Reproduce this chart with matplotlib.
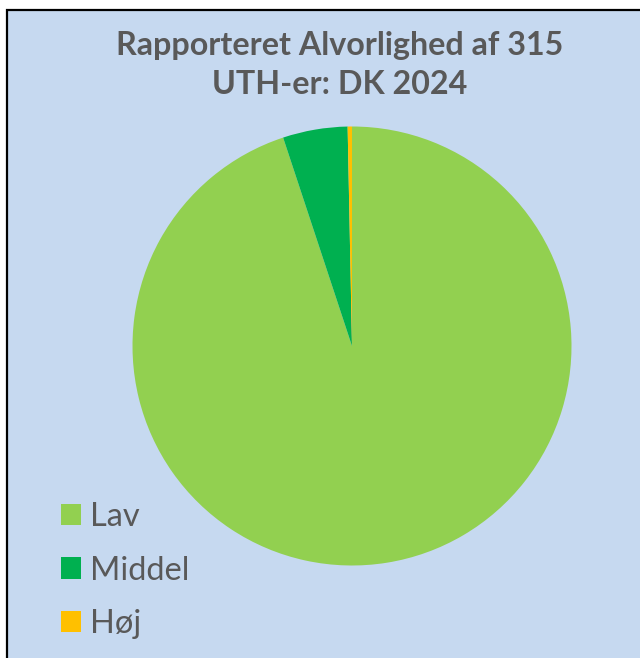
import matplotlib
matplotlib.use("Agg")
import matplotlib.pyplot as plt
from matplotlib.patches import Rectangle

# data
labels = ["Lav", "Middel", "Høj"]
counts = [299, 15, 1]
colors = ["#92D050", "#00B050", "#FFC000"]

BG = "#C6D9F0"
TEXT = "#595959"

plt.rcParams["font.family"] = ["Lato", "DejaVu Sans"]

W, H = 640, 658
fig = plt.figure(figsize=(W / 100, H / 100), dpi=100, facecolor="white")

# chart area with black border (right/bottom run off the image)
fig.patches.append(Rectangle((7 / W, -0.02), 1.0, (H - 10) / H + 0.02,
                             transform=fig.transFigure, facecolor=BG,
                             edgecolor="black", linewidth=1.6, zorder=-5))

cx, cy, r = 352, 346, 219.5
ax = fig.add_axes([(cx - r) / W, (H - cy - r) / H, 2 * r / W, 2 * r / H])
ax.set_zorder(2)
ax.set_facecolor("none")
wedges, _ = ax.pie(counts, colors=colors, startangle=90, counterclock=False,
                   wedgeprops=dict(linewidth=0))
ax.set_xlim(-1, 1)
ax.set_ylim(-1, 1)
ax.set_aspect("equal")
ax.axis("off")

fig.text(340 / W, 1 - 46 / H, "Rapporteret Alvorlighed af 315", ha="center",
         va="center", fontsize=23.2, fontweight="bold", color=TEXT)
fig.text(340 / W, 1 - 85 / H, "UTH-er: DK 2024", ha="center",
         va="center", fontsize=23.2, fontweight="bold", color=TEXT)

leg = fig.legend(wedges, labels, loc="upper left",
                 bbox_to_anchor=(61 / W, 1 - 502 / H), frameon=False,
                 borderpad=0, borderaxespad=0,
                 fontsize=23.5, labelcolor=TEXT, handlelength=0.62,
                 handleheight=0.62, handletextpad=0.26, labelspacing=0.72)
leg.set_zorder(3)

fig.savefig("out.png", dpi=100, facecolor="white")
